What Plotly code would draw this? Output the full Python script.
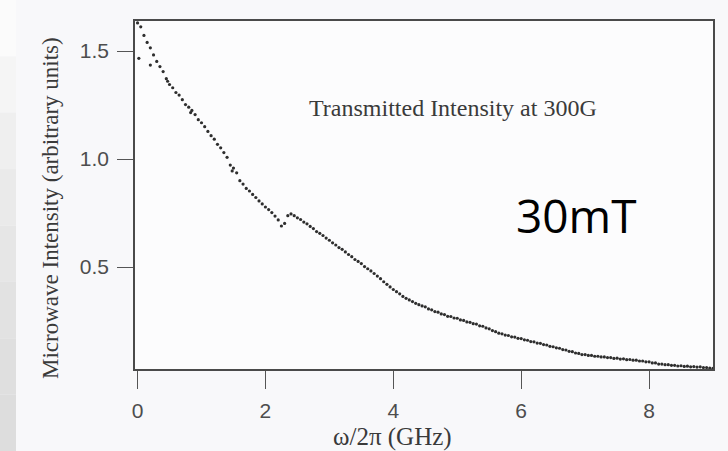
import plotly.graph_objects as go

freq_ghz = [
    0.00, 0.05, 0.10, 0.15, 0.20, 0.25, 0.30, 0.35, 0.40, 0.45,
    0.50, 0.55, 0.60, 0.65, 0.70, 0.75, 0.80, 0.85, 0.90, 0.95,
    1.00, 1.05, 1.10, 1.15, 1.20, 1.25, 1.30, 1.35, 1.40, 1.45,
    1.50, 1.55, 1.60, 1.65, 1.70, 1.75, 1.80, 1.85, 1.90, 1.95,
    2.00, 2.05, 2.10, 2.15, 2.20, 2.25, 2.30, 2.35, 2.40, 2.45,
    2.50, 2.55, 2.60, 2.65, 2.70, 2.75, 2.80, 2.85, 2.90, 2.95,
    3.00, 3.05, 3.10, 3.15, 3.20, 3.25, 3.30, 3.35, 3.40, 3.45,
    3.50, 3.55, 3.60, 3.65, 3.70, 3.75, 3.80, 3.85, 3.90, 3.95,
    4.00, 4.05, 4.10, 4.15, 4.20, 4.25, 4.30, 4.35, 4.40, 4.45,
    4.50, 4.55, 4.60, 4.65, 4.70, 4.75, 4.80, 4.85, 4.90, 4.95,
    5.00, 5.05, 5.10, 5.15, 5.20, 5.25, 5.30, 5.35, 5.40, 5.45,
    5.50, 5.55, 5.60, 5.65, 5.70, 5.75, 5.80, 5.85, 5.90, 5.95,
    6.00, 6.05, 6.10, 6.15, 6.20, 6.25, 6.30, 6.35, 6.40, 6.45,
    6.50, 6.55, 6.60, 6.65, 6.70, 6.75, 6.80, 6.85, 6.90, 6.95,
    7.00, 7.05, 7.10, 7.15, 7.20, 7.25, 7.30, 7.35, 7.40, 7.45,
    7.50, 7.55, 7.60, 7.65, 7.70, 7.75, 7.80, 7.85, 7.90, 7.95,
    8.00, 8.05, 8.10, 8.15, 8.20, 8.25, 8.30, 8.35, 8.40, 8.45,
    8.50, 8.55, 8.60, 8.65, 8.70, 8.75, 8.80, 8.85, 8.90, 8.95,
    9.00,
    0.02, 0.20, 0.47, 0.83, 1.48,
]
intensity = [
    1.630, 1.612, 1.572, 1.540, 1.515, 1.482, 1.452, 1.428, 1.405, 1.372,
    1.345, 1.330, 1.308, 1.296, 1.275, 1.252, 1.240, 1.225, 1.206, 1.182,
    1.168, 1.150, 1.128, 1.108, 1.092, 1.068, 1.052, 1.030, 1.008, 0.972,
    0.958, 0.936, 0.900, 0.884, 0.864, 0.852, 0.836, 0.822, 0.806, 0.792,
    0.778, 0.766, 0.752, 0.736, 0.718, 0.690, 0.702, 0.738, 0.746, 0.738,
    0.728, 0.720, 0.708, 0.700, 0.688, 0.678, 0.664, 0.656, 0.646, 0.634,
    0.624, 0.612, 0.602, 0.590, 0.582, 0.570, 0.558, 0.548, 0.535, 0.526,
    0.516, 0.502, 0.492, 0.482, 0.470, 0.458, 0.446, 0.432, 0.420, 0.408,
    0.396, 0.386, 0.376, 0.364, 0.355, 0.348, 0.340, 0.332, 0.326, 0.320,
    0.316, 0.306, 0.302, 0.294, 0.291, 0.283, 0.280, 0.272, 0.271, 0.264,
    0.263, 0.255, 0.253, 0.246, 0.244, 0.238, 0.236, 0.228, 0.226, 0.218,
    0.214, 0.206, 0.201, 0.194, 0.191, 0.185, 0.183, 0.177, 0.176, 0.170,
    0.169, 0.163, 0.161, 0.155, 0.154, 0.148, 0.147, 0.141, 0.139, 0.133,
    0.131, 0.126, 0.124, 0.118, 0.116, 0.110, 0.108, 0.102, 0.100, 0.095,
    0.095, 0.091, 0.091, 0.087, 0.087, 0.084, 0.084, 0.081, 0.081, 0.077,
    0.078, 0.074, 0.075, 0.071, 0.072, 0.069, 0.069, 0.065, 0.065, 0.061,
    0.061, 0.056, 0.056, 0.051, 0.051, 0.048, 0.048, 0.045, 0.045, 0.042,
    0.043, 0.040, 0.041, 0.038, 0.039, 0.037, 0.038, 0.035, 0.035, 0.032,
    0.031,
    1.466, 1.435, 1.360, 1.215, 0.945,
]

x_tick_vals = [0, 2, 4, 6, 8]
x_tick_text = ["0", "2", "4", "6", "8"]
y_tick_vals = [0.5, 1.0, 1.5]
y_tick_text = ["0.5", "1.0", "1.5"]

x_title = "ω/2π (GHz)"
y_title = "Microwave Intensity (arbitrary units)"
inset_label = "Transmitted Intensity at 300G"
field_label = "30mT"

W, H = 728, 451
ML, MR, MT, MB = 135, 15, 21, 82
PW, PH = W - ML - MR, H - MT - MB

def px_x(p):
    return (p - ML) / PW

def px_y(p):
    return (H - MB - p) / PH

fig = go.Figure()
fig.add_trace(go.Scatter(
    x=freq_ghz, y=intensity, mode="markers",
    marker=dict(size=3.2, color="#2e2e2e", line=dict(width=0)),
    showlegend=False, hoverinfo="skip",
))

axis_common = dict(
    showline=True, mirror=True, linecolor="#4a4a4a", linewidth=1.6,
    showgrid=False, zeroline=False, ticks="outside", tickcolor="#555555",
    tickwidth=1.3, tickfont=dict(family="Liberation Sans, Arial, sans-serif", size=21, color="#4d4d4d"),
)

fig.update_xaxes(range=[-0.04, 9.0], tickvals=x_tick_vals, ticktext=x_tick_text,
                 ticklen=18, ticklabelstandoff=4, **axis_common)
fig.update_yaxes(range=[0.028, 1.639], tickvals=y_tick_vals, ticktext=y_tick_text,
                 ticklen=16, ticklabelstandoff=4, **axis_common)

# gray scanner strip at the left edge (vertical gradient approximated by bands)
strip_colors = ["#fbfbfb", "#f5f5f5", "#efefef", "#eaeaea", "#e6e6e6", "#e2e2e2", "#dfdfdf", "#dddddd"]
n = len(strip_colors)
for i, c in enumerate(strip_colors):
    y0 = H * i / n
    y1 = H * (i + 1) / n
    fig.add_shape(type="rect", xref="paper", yref="paper",
                  x0=px_x(0), x1=px_x(16), y0=px_y(y1), y1=px_y(y0),
                  fillcolor=c, line=dict(width=0), layer="below")

serif = "Liberation Serif, Times New Roman, serif"
fig.add_annotation(text=y_title, xref="paper", yref="paper", x=px_x(50), y=px_y(208),
                   textangle=-90, showarrow=False, xanchor="center", yanchor="middle",
                   font=dict(family=serif, size=23, color="#3a3a3a"))
fig.add_annotation(text=x_title, xref="paper", yref="paper", x=px_x(392), y=px_y(437),
                   showarrow=False, xanchor="center", yanchor="middle",
                   font=dict(family=serif, size=25, color="#3a3a3a"))
fig.add_annotation(text=inset_label, xref="paper", yref="paper", x=px_x(307), y=px_y(108),
                   showarrow=False, xanchor="left", yanchor="middle",
                   font=dict(family=serif, size=24, color="#3a3a3a"))
fig.add_annotation(text=field_label, xref="paper", yref="paper", x=px_x(576), y=px_y(215),
                   showarrow=False, xanchor="center", yanchor="middle",
                   font=dict(family="Open Sans, Noto Sans, sans-serif", size=46, color="#000000"))

fig.update_layout(
    width=W, height=H,
    margin=dict(l=ML, r=MR, t=MT, b=MB),
    paper_bgcolor="#f8f8fa", plot_bgcolor="#fcfcfd",
)

fig.write_html("out.html")
